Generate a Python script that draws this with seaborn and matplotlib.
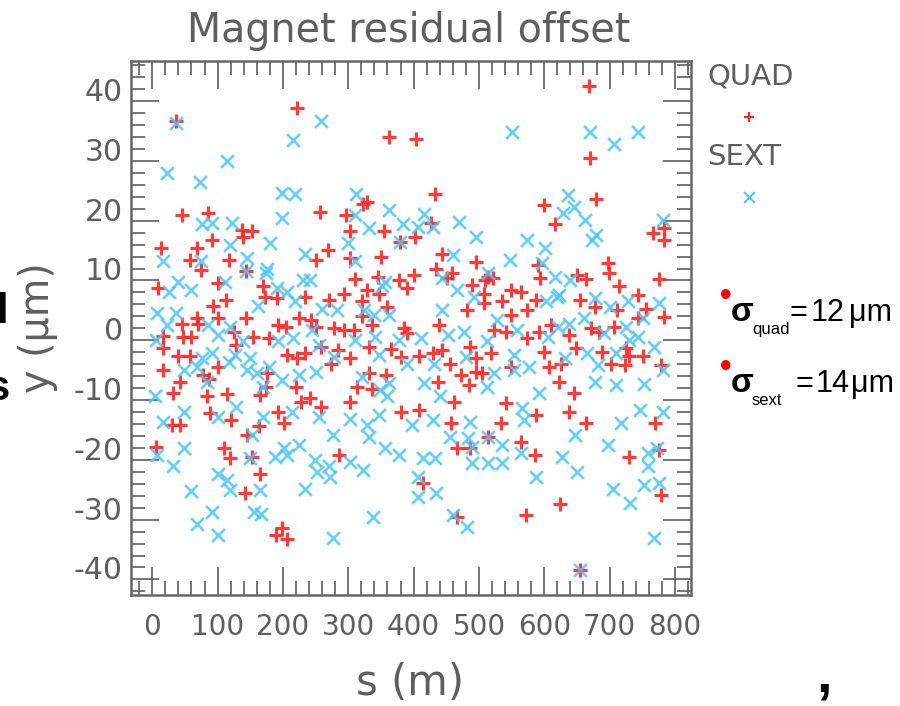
import matplotlib
matplotlib.use("Agg")
import matplotlib.pyplot as plt
from matplotlib.ticker import FixedLocator, MultipleLocator
import pandas as pd
import seaborn as sns

# Quadrupole residual offsets: position s (m), vertical offset y (um)
quad_s = [222, 37, 363, 404, 328, 323, 46, 85, 256, 297, 303, 137, 139, 152, 92, 354, 402, 13, 68, 58,
          118, 75, 251, 269, 303, 350, 346, 401, 310, 143, 379,
          669, 670, 433, 600, 679, 616, 426, 767, 783, 783, 443, 495, 435, 458, 451, 591, 593, 698, 699,
          650, 664, 775, 514, 522,
          8, 100, 113, 93, 68, 70, 101, 45, 144, 125, 17, 47, 60, 154, 179, 17, 40, 58, 128, 16,
          100, 77, 87, 42, 175, 174, 165, 84, 31, 115, 89, 30, 42, 120, 164, 169, 172,
          293, 234, 191, 271, 329, 321, 347, 377, 390, 359, 193, 204, 224, 243, 250, 278, 294, 308, 336,
          385, 390, 321, 206, 222, 234, 259, 285, 302, 274, 332, 366, 380, 357, 331, 313, 220, 336, 242,
          227, 259, 303, 192, 381, 201,
          564, 549, 509, 490, 508, 507, 536, 482, 587, 574, 549, 439, 541, 592, 610, 523, 574, 408, 429,
          444, 487, 518, 495, 456, 472, 485, 495, 505, 437, 607, 600, 549, 462, 408, 541, 587, 457, 533,
          715, 744, 654, 678, 712, 756, 784, 743, 707, 672, 638, 684, 649, 689, 725, 730, 751, 702, 723,
          626, 623, 779, 646, 638, 664, 770,
          6, 110, 119, 145, 152, 165, 142, 189, 198, 206, 286,
          466, 486, 415, 564, 586, 624, 572, 466, 730, 775, 778, 655, 514]
quad_y = [38.8, 36.6, 34.0, 33.6, 23.2, 22.8, 21.0, 21.3, 21.4, 21.0, 18.3, 18.4, 17.3, 18.2, 16.8, 18.2,
          17.3, 15.5, 15.4, 13.4, 13.4, 11.8, 13.5, 15.1, 13.7, 13.9, 10.6, 10.9, 10.2, 11.6, 16.5,
          42.5, 30.4, 24.4, 22.7, 23.7, 19.4, 19.6, 17.9, 18.7, 16.8, 14.4, 13.1, 11.9, 11.2, 10.4, 12.6,
          10.4, 12.9, 11.2, 10.9, 10.3, 10.3, 10.6, 10.4,
          8.7, 9.5, 6.7, 5.7, 3.8, 2.8, 3.7, 2.8, 3.8, 1.3, 0.7, 0.6, 0.5, 0.6, 0.3, -1.3, -2.7, -2.7, -0.8,
          -4.9, -4.4, -5.8, -6.4, -7.0, -5.4, -7.8, -9.2, -9.3, -8.9, -9.0, -12.1, -14.2, -14.2, -13.4,
          -14.4, 9.0, 7.3,
          7.8, 7.3, 7.0, 6.7, 8.4, 6.5, 7.8, 10.1, 8.7, 5.6, 2.5, 2.3, 3.8, 3.4, 2.3, 2.0, 1.7, 1.7, 2.5,
          2.0, 1.2, 4.1, -2.5, -3.0, -2.2, -1.1, -1.6, -3.0, -3.9, -1.1, -1.4, -2.8, -5.8, -5.5, -7.8,
          -7.8, -8.2, -9.7, -10.3, -11.1, -10.3, -12.0, -12.0, -13.9,
          8.1, 8.4, 10.1, 9.2, 7.8, 6.2, 6.5, 5.1, 6.7, 5.1, 4.2, 2.6, 1.4, 1.4, 2.6, 1.7, 0.3, -2.7, -2.2,
          -1.6, -1.1, -2.2, -3.0, -3.9, -5.8, -7.5, -5.3, -5.5, -6.9, -4.4, -1.9, -4.4, -10.3, -11.7,
          -10.5, -12.5, -13.9, -13.9,
          9.0, 7.6, 6.7, 5.6, 5.1, 5.3, 3.9, 3.7, 2.3, 2.0, 0.9, 1.4, -1.3, -1.9, -1.3, -2.7, -2.6, -3.9,
          -4.1, -3.9, -6.9, -4.1, -8.9, -12.0, -13.9, -13.9,
          -17.8, -18.1, -19.7, -15.8, -19.6, -22.3, -25.5, -32.6, -31.4, -33.2, -19.2,
          -18.1, -18.1, -23.9, -17.0, -19.2, -27.3, -29.2, -29.5, -19.5, -18.4, -25.9, -38.5, -16.1]

# Sextupole residual offsets
sext_s = [259, 216, 37, 114, 23, 73, 198, 218, 312, 198, 363, 76, 91, 122, 331, 384, 407, 310, 379, 180,
          119, 300, 234, 16, 74, 145, 310, 175, 143, 174, 231, 241, 111, 40, 356,
          550, 670, 707, 744, 637, 645, 628, 662, 673, 679, 416, 429, 470, 496, 573, 601, 548, 461, 596,
          782, 514, 444, 616, 639,
          26, 60, 162, 7, 37, 22, 86, 101, 119, 6, 139, 91, 76, 127, 150, 145, 160, 118, 48, 68, 83, 178,
          170, 4, 48, 101, 128, 17, 170,
          351, 191, 206, 219, 260, 283, 324, 339, 362, 244, 216, 193, 311, 341, 377, 255, 278, 250, 224,
          199, 321, 347, 362, 349, 359, 390, 214, 255, 303, 347, 329, 398,
          467, 492, 444, 477, 513, 528, 559, 411, 452, 602, 620, 605, 431, 480, 523, 554, 577, 554, 513,
          416, 441, 592, 566, 429, 487, 569,
          623, 677, 700, 728, 776, 751, 661, 638, 725, 621, 743, 730, 692, 768, 666, 710, 631, 682, 781,
          677, 710, 752, 746, 781, 717,
          7, 32, 48, 60, 68, 91, 100, 101, 114, 119, 152, 150, 165, 155, 167, 188, 206, 201, 224, 234, 249,
          270, 252, 272, 277, 277, 303, 323, 338, 331, 356, 377, 406, 406,
          456, 484, 489, 415, 433, 435, 461, 481, 489, 514, 535, 535, 565, 587, 627, 650, 647, 697, 705,
          731, 752, 759, 759, 772, 775, 768, 655, 514]
sext_y = [36.6, 33.5, 36.4, 29.9, 27.9, 26.4, 24.6, 24.4, 24.4, 20.5, 21.8, 19.4, 19.6, 19.6, 18.8, 19.4,
          19.0, 21.0, 16.5, 16.3, 15.9, 16.3, 14.5, 13.2, 13.2, 13.7, 13.2, 12.0, 11.6, 11.2, 10.1, 10.1,
          9.8, 9.8, 9.8,
          34.9, 34.9, 32.9, 34.9, 24.3, 22.3, 21.2, 20.1, 16.8, 17.6, 21.1, 19.0, 19.7, 17.3, 16.8, 15.4,
          13.5, 14.3, 13.0, 20.1, 11.2, 10.4, 10.6, 10.1,
          8.1, 8.4, 5.7, 4.5, 4.5, 2.5, 2.5, 0.9, 2.3, 0.0, -0.2, -2.2, -3.0, -2.5, -3.0, -5.0, -5.5, -3.6,
          -5.0, -4.4, -7.0, -4.4, -7.8, -9.4, -12.0, -12.8, -11.1, -13.6, -12.8,
          9.0, 8.7, 8.1, 6.5, 5.3, 5.1, 5.1, 4.2, 4.2, 1.7, 0.3, -0.2, 0.0, 0.6, 0.0, -0.8, -2.8, -5.3,
          -5.8, -6.6, -6.1, -2.5, -7.2, -8.3, -9.4, -3.9, -12.0, -12.8, -13.1, -12.5, -14.2, -14.2,
          8.4, 7.3, 5.1, 1.4, -0.2, 3.4, 1.7, 0.3, 0.9, 6.5, 7.3, 0.6, -3.9, -2.8, -5.5, -2.5, -4.4, -5.0,
          -7.8, -7.2, -9.4, -8.9, -11.4, -13.3, -13.6, -13.3,
          7.6, 7.0, 5.6, 6.5, 6.2, 3.7, 3.7, 2.8, 2.3, 2.3, 0.6, 0.0, 1.2, -1.1, -2.2, -2.2, -3.0, -4.1,
          -5.0, -6.9, -7.5, -7.3, -11.7, -12.0, -13.9,
          -19.2, -21.0, -18.1, -25.2, -30.7, -28.7, -32.6, -22.4, -23.3, -25.0, -15.8, -19.7, -25.0, -28.7,
          -29.0, -19.5, -19.2, -18.1, -17.5, -24.8, -20.0, -21.1, -22.0, -22.8, -15.8, -33.1, -20.3, -21.7,
          -29.5, -16.1, -18.1, -19.2, -22.8, -26.2,
          -16.1, -16.4, -17.8, -19.7, -19.7, -25.6, -29.2, -31.2, -20.6, -20.6, -20.6, -17.5, -18.9, -22.8,
          -19.5, -22.0, -15.8, -17.5, -24.8, -27.2, -24.2, -18.9, -21.1, -18.1, -23.9, -33.1, -38.5, -16.1]

x_ticks = [0, 100, 200, 300, 400, 500, 600, 700, 800]
y_ticks = [-40, -30, -20, -10, 0, 10, 20, 30, 40]
series_names = ["QUAD", "SEXT"]
sigma_quad = 12
sigma_sext = 14

RED = "#ff2626"
BLUE = "#4cc6f2"
GREY = "#5e5e5e"

sns.set_theme(style="white")
plt.rcParams["font.family"] = ["DejaVu Sans"]

W, H = 900, 706
fig = plt.figure(figsize=(W / 100, H / 100), dpi=100)
ax = fig.add_axes([131 / W, 1 - 595 / H, 560 / W, 534 / H])

quad = pd.DataFrame({"s": quad_s, "y": quad_y})
sext = pd.DataFrame({"s": sext_s, "y": sext_y})
sns.scatterplot(data=quad, x="s", y="y", marker="+", color=RED, s=100, linewidth=2.3,
                ax=ax, legend=False, zorder=3, alpha=0.9)
sns.scatterplot(data=sext, x="s", y="y", marker="x", color=BLUE, s=85, linewidth=1.9,
                ax=ax, legend=False, zorder=4, alpha=0.85)

ax.set_xlim(-32.6, 824.6)
ax.set_ylim(-42.6, 46.7)
ax.xaxis.set_major_locator(FixedLocator(x_ticks))
ax.xaxis.set_minor_locator(MultipleLocator(20))
ax.yaxis.set_major_locator(FixedLocator(y_ticks))
ax.yaxis.set_minor_locator(MultipleLocator(2))
ax.set_xticklabels([str(v) for v in x_ticks])
ax.set_yticklabels([str(v) for v in y_ticks])
ax.tick_params(which="both", direction="in", top=True, right=True, bottom=True, left=True,
               color=GREY, width=1.2, labelcolor=GREY)
ax.tick_params(axis="y", labelsize=21.5, pad=6)
ax.tick_params(axis="x", labelsize=20, pad=13)
ax.tick_params(which="major", length=20)
ax.tick_params(which="minor", length=10)
for lab in ax.get_yticklabels():
    lab.set_verticalalignment("baseline")
for sp in ax.spines.values():
    sp.set_color("#666666")
    sp.set_linewidth(1.8)
ax.set_xlabel("")
ax.set_ylabel("")

fig.text(409 / W, 1 - 31 / H, "Magnet residual offset", ha="center", va="center",
         fontsize=28.5, color=GREY)
fig.text(410 / W, 1 - 683 / H, "s (m)", ha="center", va="center", fontsize=30, color=GREY)
fig.text(38 / W, 1 - 328 / H, "y (μm)", ha="center", va="center", rotation=90,
         fontsize=28.5, color=GREY)

# series key on the right of the frame
fig.text(707 / W, 1 - 77 / H, series_names[0], ha="left", va="center", fontsize=21, color=GREY)
fig.text(707 / W, 1 - 157 / H, series_names[1], ha="left", va="center", fontsize=21, color=GREY)
kax = fig.add_axes([700 / W, 1 - 230 / H, 100 / W, 150 / H])
kax.set_axis_off()
kax.set_xlim(0, 100)
kax.set_ylim(230, 80)
sns.scatterplot(x=[49], y=[117], marker="+", color=RED, s=60, linewidth=1.6, ax=kax, legend=False)
sns.scatterplot(x=[49], y=[197], marker="x", color=BLUE, s=60, linewidth=1.4, ax=kax, legend=False)

# sigma annotations: (baseline, subscript, value, "=" centre, value centre, unit left edge)
sans = ["Liberation Sans", "DejaVu Sans"]
rows = [(321, "quad", sigma_quad, 798, 828, 849),
        (392, "sext", sigma_sext, 804, 833, 851)]
for base, sub, val, eq_x, val_x, unit_x in rows:
    fig.text(726 / W, 1 - (base - 24) / H, "•", ha="center", va="center", fontsize=24,
             color="red", family=sans, fontweight="bold")
    fig.text(731 / W, 1 - base / H, "σ", ha="left", va="baseline", fontsize=24,
             color="black", family=sans, fontweight="bold")
    fig.text(752 / W, 1 - (base + 13) / H, sub, ha="left", va="baseline", fontsize=12,
             color="black", family=sans)
    fig.text(eq_x / W, 1 - base / H, "=", ha="center", va="baseline", fontsize=22,
             color="black", family=sans)
    fig.text(val_x / W, 1 - base / H, f"{val}", ha="center", va="baseline", fontsize=22,
             color="black", family=sans)
    fig.text(unit_x / W, 1 - base / H, "μm", ha="left", va="baseline", fontsize=22,
             color="black", family=sans)

# clipped slide text at the edges
fig.text(8 / W, 1 - 323 / H, "d", ha="right", va="baseline", fontsize=30, color="black",
         family=sans, fontweight="bold")
fig.text(10 / W, 1 - 400 / H, "s", ha="right", va="baseline", fontsize=30, color="black",
         family=sans, fontweight="bold")
fig.text(824 / W, 1 - 678 / H, ",", ha="center", va="center", fontsize=40, color="black",
         family=sans, fontweight="bold")

fig.savefig("out.png", dpi=100)
